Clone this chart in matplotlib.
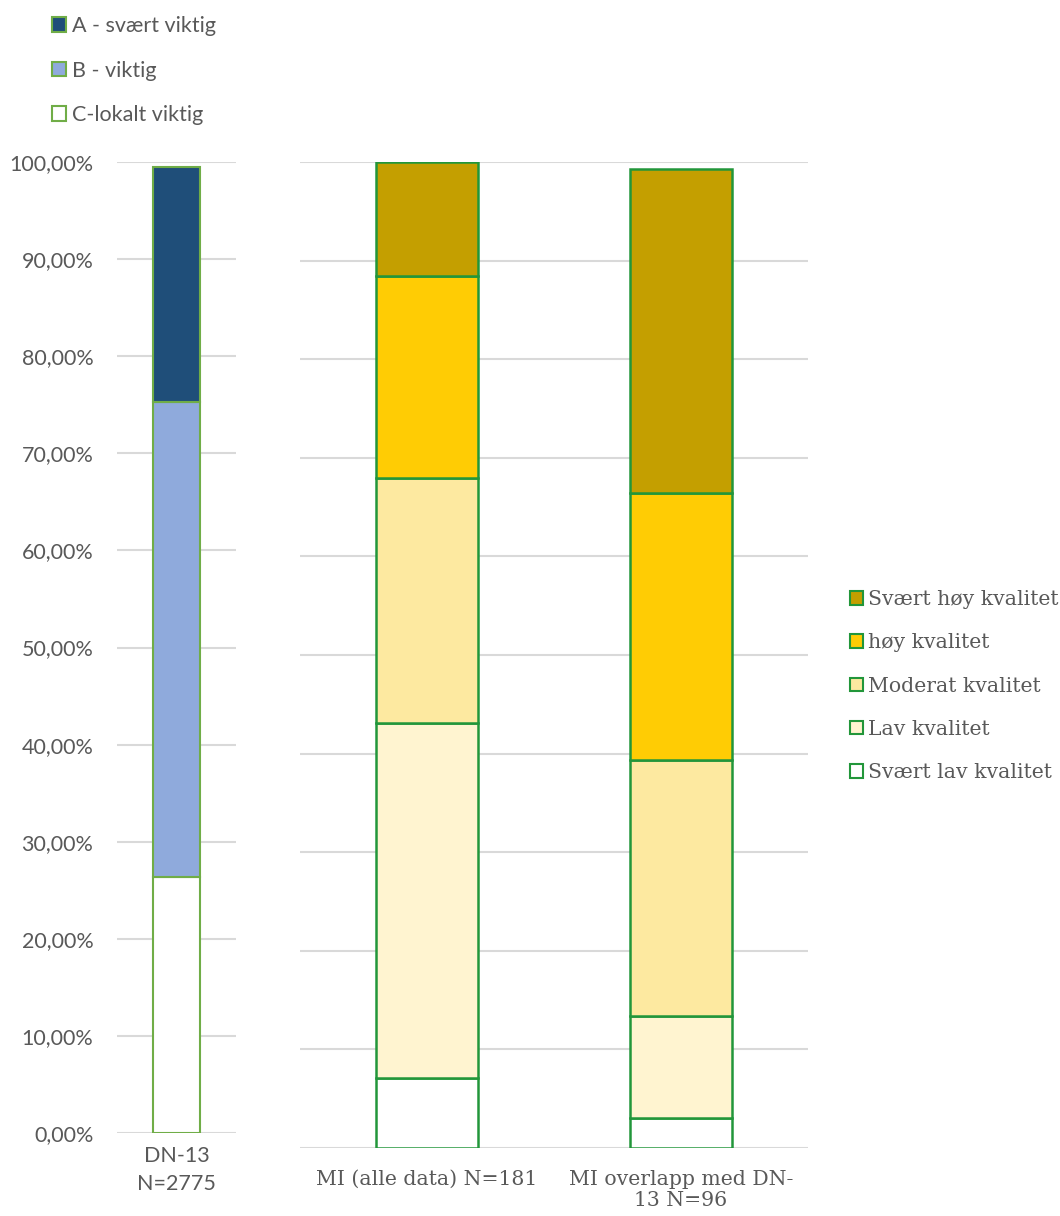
import matplotlib
matplotlib.use("Agg")
import matplotlib.pyplot as plt
from matplotlib.patches import Patch
from matplotlib.ticker import FuncFormatter, MultipleLocator

# ---- data ----
left_categories = ["DN-13\nN=2775"]
left_series = ["C-lokalt viktig", "B - viktig", "A - svært viktig"]
left_values = {
    "C-lokalt viktig": [26.4],
    "B - viktig": [48.9],
    "A - svært viktig": [24.2],
}
left_colors = {"C-lokalt viktig": "#FFFFFF", "B - viktig": "#8FAADC", "A - svært viktig": "#1F4E79"}

right_categories = ["MI (alle data) N=181", "MI overlapp med DN-\n13 N=96"]
right_series = ["Svært lav kvalitet", "Lav kvalitet", "Moderat kvalitet", "høy kvalitet", "Svært høy kvalitet"]
right_values = {
    "Svært lav kvalitet": [7.1, 3.0],
    "Lav kvalitet": [36.0, 10.4],
    "Moderat kvalitet": [24.9, 26.0],
    "høy kvalitet": [20.4, 27.0],
    "Svært høy kvalitet": [11.6, 32.9],
}
right_colors = {
    "Svært lav kvalitet": "#FFFFFF",
    "Lav kvalitet": "#FFF4D0",
    "Moderat kvalitet": "#FDE9A0",
    "høy kvalitet": "#FFCC04",
    "Svært høy kvalitet": "#C49F00",
}

TXT = "#595959"
GRID = "#D9D9D9"
SANS = ["Lato", "DejaVu Sans"]
SERIF = ["DejaVu Serif"]
FS_SANS = 15.5
FS_SERIF = 14.7

W, H = 1060, 1216
fig = plt.figure(figsize=(W / 100, H / 100), dpi=100)

def fx(px):
    return px / W

def fy(py):
    return 1 - py / H

# left axes
axL = fig.add_axes([fx(117), fy(1133), fx(236 - 117), fy(162) - fy(1133)])
bottom = [0.0]
for s in left_series:
    v = left_values[s]
    axL.bar(range(len(left_categories)), v, bottom=bottom, width=0.40,
            color=left_colors[s], edgecolor="#70AD47", linewidth=1.5, zorder=3)
    bottom = [b + x for b, x in zip(bottom, v)]
axL.set_xlim(-0.5, 0.5)
axL.set_ylim(0, 100)
axL.yaxis.set_major_locator(MultipleLocator(10))
axL.yaxis.set_major_formatter(FuncFormatter(lambda v, p: f"{v:.2f}".replace(".", ",") + "%"))
axL.set_xticks(range(len(left_categories)))
axL.set_xticklabels(left_categories, fontsize=FS_SANS, color=TXT, family=SANS, linespacing=1.55)
for lab in axL.get_yticklabels():
    lab.set_fontsize(FS_SANS)
    lab.set_color(TXT)
    lab.set_family(SANS)
axL.grid(axis="y", color=GRID, linewidth=1.5, zorder=0)
axL.tick_params(axis="x", length=0, pad=9)
axL.tick_params(axis="y", length=0, pad=17)
for sp in axL.spines.values():
    sp.set_visible(False)

# right axes
axR = fig.add_axes([fx(300), fy(1148), fx(808 - 300), fy(162) - fy(1148)])
bottom = [0.0, 0.0]
for s in right_series:
    v = right_values[s]
    axR.bar(range(len(right_categories)), v, bottom=bottom, width=0.40,
            color=right_colors[s], edgecolor="#22963A", linewidth=1.8, zorder=3)
    bottom = [b + x for b, x in zip(bottom, v)]
axR.set_xlim(-0.5, 1.5)
axR.set_ylim(0, 100)
axR.yaxis.set_major_locator(MultipleLocator(10))
axR.set_yticklabels([])
axR.set_xticks(range(len(right_categories)))
axR.set_xticklabels(right_categories, fontsize=FS_SERIF, color=TXT, family=SERIF, linespacing=1.15)
axR.grid(axis="y", color=GRID, linewidth=1.5, zorder=0)
axR.tick_params(length=0, pad=16)
for sp in axR.spines.values():
    sp.set_visible(False)

# legends
hL = [Patch(facecolor=left_colors[s], edgecolor="#70AD47", linewidth=1.5) for s in reversed(left_series)]
legL = fig.legend(hL, list(reversed(left_series)), loc="upper left",
                  bbox_to_anchor=(fx(52), fy(16)), frameon=False,
                  borderpad=0, borderaxespad=0,
                  handlelength=0.65, handleheight=0.65, handletextpad=0.3,
                  labelspacing=1.14, prop={"family": SANS, "size": FS_SANS})
for t in legL.get_texts():
    t.set_color(TXT)

hR = [Patch(facecolor=right_colors[s], edgecolor="#22963A", linewidth=1.5) for s in reversed(right_series)]
legR = fig.legend(hR, list(reversed(right_series)), loc="upper left",
                  bbox_to_anchor=(fx(850), fy(590)), frameon=False,
                  borderpad=0, borderaxespad=0,
                  handlelength=0.64, handleheight=0.64, handletextpad=0.25,
                  labelspacing=1.19, prop={"family": SERIF, "size": FS_SERIF})
for t in legR.get_texts():
    t.set_color(TXT)

fig.savefig("out.png", dpi=100)
